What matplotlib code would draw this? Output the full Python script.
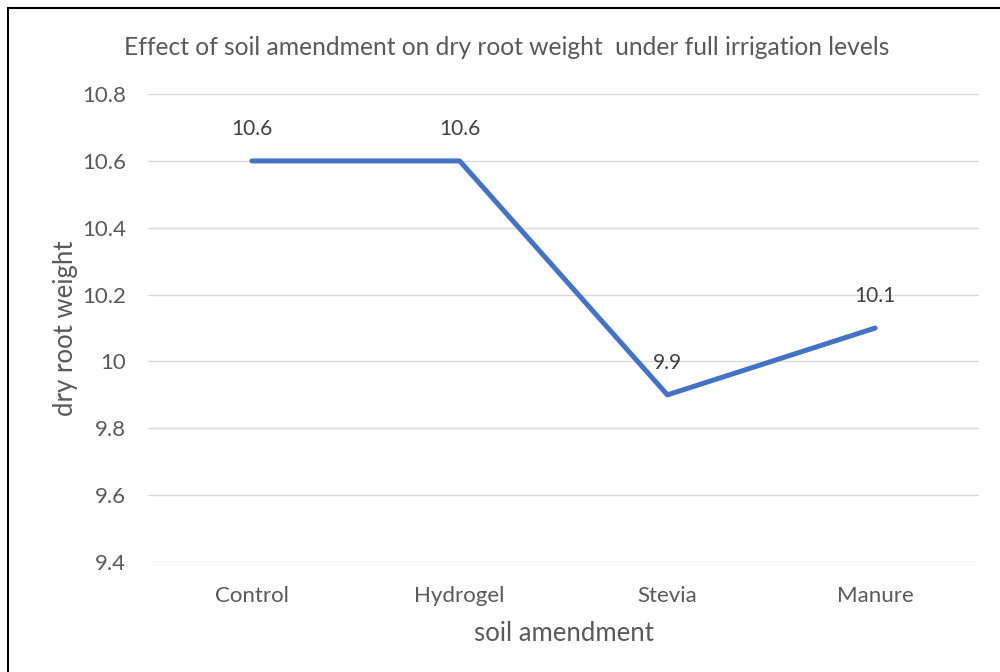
import matplotlib
matplotlib.use('Agg')
from matplotlib import pyplot as plt
from matplotlib.patches import Rectangle

# data
categories = ['Control', 'Hydrogel', 'Stevia', 'Manure']
root_weight = [10.6, 10.6, 9.9, 10.1]
labels = ['10.6', '10.6', '9.9', '10.1']
yticks = [9.4, 9.6, 9.8, 10.0, 10.2, 10.4, 10.6, 10.8]
ytick_labels = ['9.4', '9.6', '9.8', '10', '10.2', '10.4', '10.6', '10.8']

plt.rcParams['font.family'] = ['Lato', 'DejaVu Sans']
txt = '#595959'

fig = plt.figure(figsize=(10, 6.72), dpi=100)
ax = fig.add_axes([0.148, 0.1637, 0.831, 0.6963])

x = list(range(len(categories)))
ax.plot(x, root_weight, color='#4472C4', linewidth=3.6, solid_capstyle='round', solid_joinstyle='round', zorder=3)
for xi, v, lab in zip(x, root_weight, labels):
    ax.annotate(lab, (xi, v), xytext=(0, 16), textcoords='offset points',
                ha='center', va='bottom', fontsize=15, color='#404040')

ax.set_xlim(-0.5, len(categories) - 0.5)
ax.set_ylim(9.4, 10.8)
ax.set_yticks(yticks)
ax.set_yticklabels(ytick_labels)
ax.set_xticks(x)
ax.set_xticklabels(categories)
ax.tick_params(axis='both', length=0, labelsize=16, labelcolor=txt)
ax.tick_params(axis='y', pad=16)
ax.tick_params(axis='x', pad=17)
ax.grid(axis='y', color='#D9D9D9', linewidth=1)
ax.set_axisbelow(True)
for s in ax.spines.values():
    s.set_visible(False)

ax.set_xlabel('soil amendment', fontsize=18.5, color=txt, labelpad=11)
ax.set_ylabel('dry root weight', fontsize=18.5, color=txt, labelpad=3)
fig.text(0.507, 0.930, 'Effect of soil amendment on dry root weight  under full irrigation levels',
         ha='center', va='center', fontsize=17.7, color=txt)

# outer frame like the excel chart border
fig.patches.append(Rectangle((0.008, -0.05), 1.1, 0.0385 + 1.0, transform=fig.transFigure,
                             fill=False, edgecolor='black', linewidth=1.5))

fig.savefig('out.png', dpi=100)
